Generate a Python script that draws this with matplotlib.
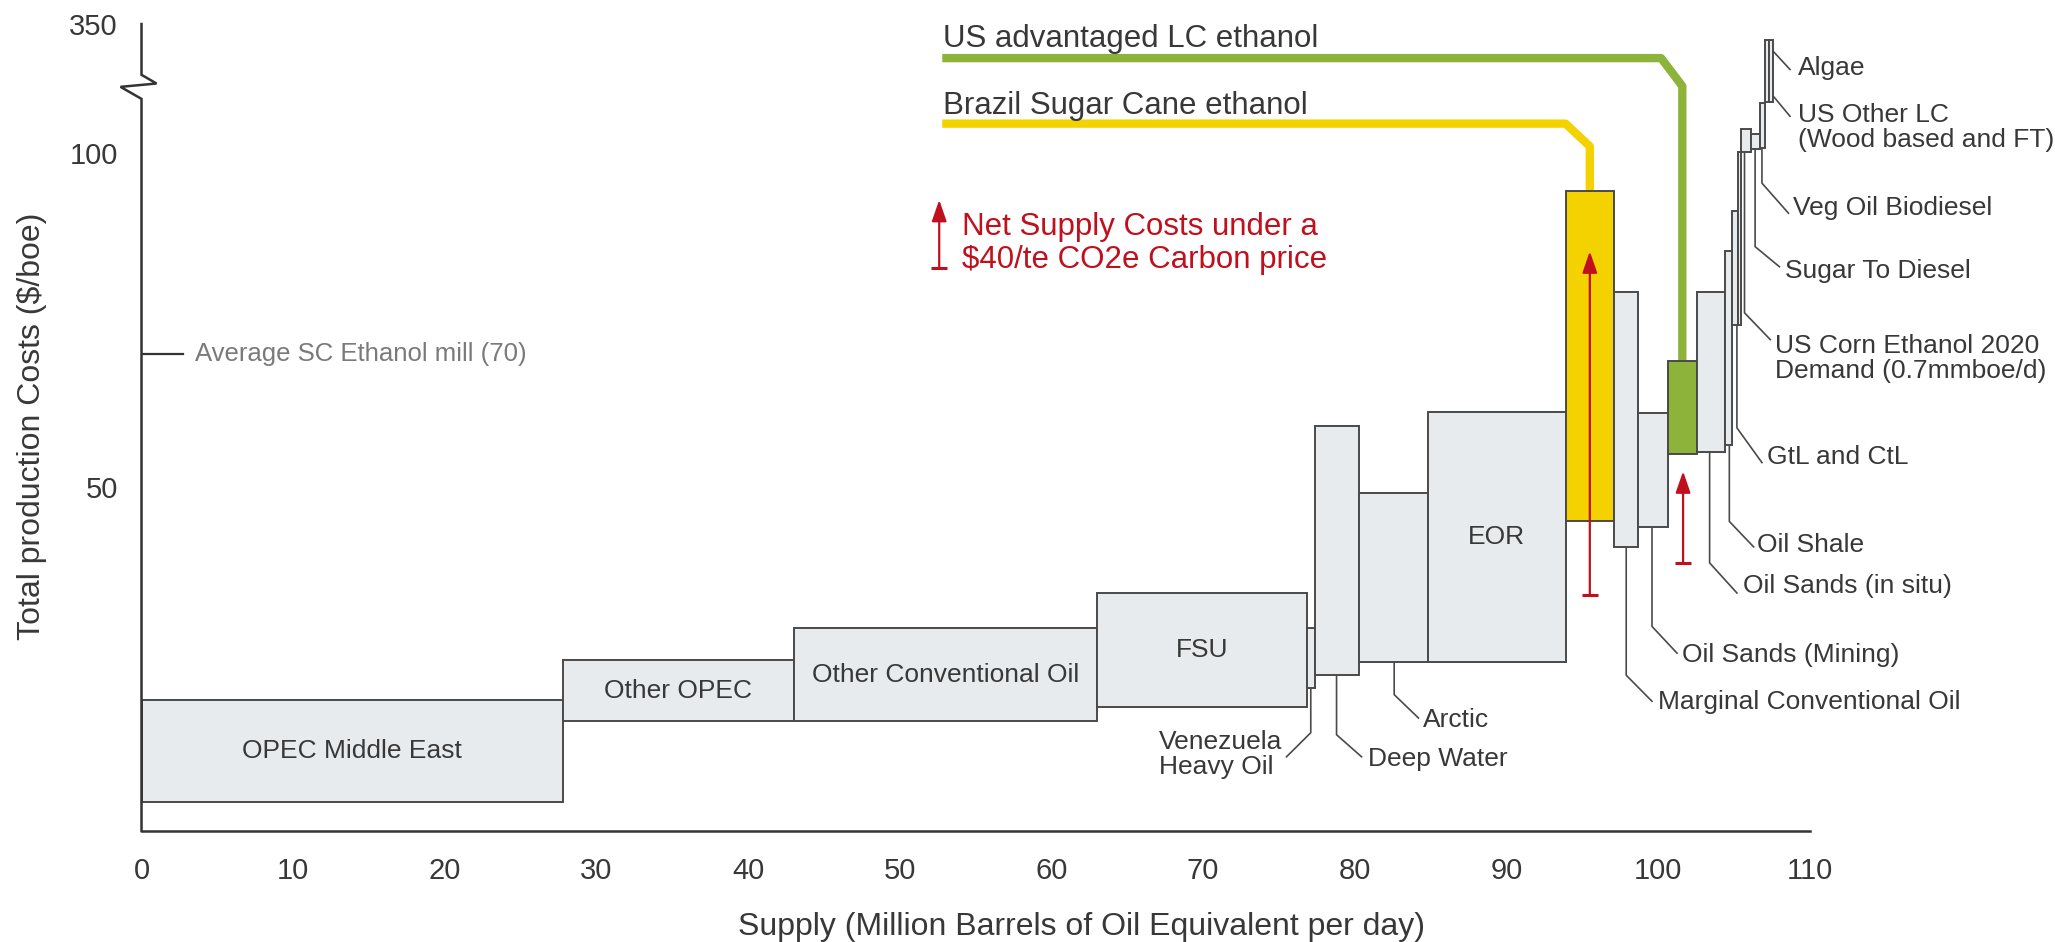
import numpy as np
import matplotlib.pyplot as plt

plt.rcParams['font.family'] = ['Liberation Sans', 'DejaVu Sans']

# supply segments (million boe/d) and their cost range ($/boe)
names = ["OPEC Middle East", "Other OPEC", "Other Conventional Oil", "FSU",
         "Venezuela Heavy Oil", "Deep Water", "Arctic", "EOR",
         "Brazil Sugar Cane ethanol", "Marginal Conventional Oil",
         "Oil Sands (Mining)", "US advantaged LC ethanol", "Oil Sands (in situ)",
         "Oil Shale", "GtL and CtL", "Other", "US Corn Ethanol", "Sugar To Diesel",
         "Veg Oil Biodiesel", "US Other LC", "Algae"]
supply = [27.8, 15.2, 20.0, 13.85, 0.55, 2.9, 4.5, 9.1, 3.2, 1.6, 1.95, 1.95,
          1.8, 0.5, 0.35, 0.22, 0.66, 0.6, 0.33, 0.27, 0.27]
cost_low = [2.9, 15.0, 15.0, 17.1, 20.0, 21.9, 23.9, 23.9, 45.0, 41.1, 44.0, 55.0,
            55.3, 56.3, 74.3, 74.3, 100.2, 100.6, 100.8, 107.6, 107.6]
cost_high = [18.2, 24.2, 28.9, 34.2, 28.9, 59.2, 49.2, 61.2, 94.3, 79.2, 61.1, 68.9,
             79.2, 85.3, 91.3, 100.2, 103.6, 102.8, 107.5, 290, 290]

# net supply cost under a $40/te CO2e price
carbon_x = [95.5, 101.65]
carbon_from = [33.9, 38.7]
carbon_to = [85.3, 52.4]

sc_mill = 70  # average SC ethanol mill
yticks = [50, 100, 350]
xticks = list(range(0, 111, 10))

GRAY = '#e8ebee'
EDGE = '#4a4a4a'
YELLOW = '#f4d200'
GREEN = '#8db33a'
RED = '#c0101e'
TXT = '#383838'

# broken axis: linear up to BRK, compressed above
BRK = 110.0
K = (119.3 - BRK) / (350 - BRK)

def fwd(v):
    v = np.asarray(v, dtype=float)
    return np.where(v <= BRK, v, BRK + (v - BRK) * K)

def inv(u):
    u = np.asarray(u, dtype=float)
    return np.where(u <= BRK, u, BRK + (u - BRK) / K)

def real(u):
    return float(inv(u))

fig = plt.figure(figsize=(20.55, 9.42), dpi=100)
ax = fig.add_axes([0.06886, 0.11783, 0.81178, 0.85669])
ax.set_yscale('function', functions=(fwd, inv))
ax.set_xlim(0, 110)
ax.set_ylim(-1.4, 350)

left = np.concatenate([[0], np.cumsum(supply)[:-1]])
colors = [GRAY] * len(names)
colors[names.index("Brazil Sugar Cane ethanol")] = YELLOW
colors[names.index("US advantaged LC ethanol")] = GREEN
ax.bar(left, np.array(cost_high) - np.array(cost_low), width=supply, bottom=cost_low,
       align='edge', color=colors, edgecolor=EDGE, linewidth=1.4, zorder=2)

# labels inside the big boxes
for nm in ["OPEC Middle East", "Other OPEC", "Other Conventional Oil", "FSU", "EOR"]:
    i = names.index(nm)
    ax.text(left[i] + supply[i] / 2, (cost_low[i] + cost_high[i]) / 2, nm,
            ha='center', va='center', fontsize=19, color=TXT, zorder=3)

# leader labels: box, x of drop, bend y, end x, end y, text x, text y, ha
leaders = [
    ("Venezuela Heavy Oil", "Venezuela\nHeavy Oil", 77.1, 13.3, 75.5, 9.7, 75.2, 10.1, 'right'),
    ("Deep Water", "Deep Water", 78.8, 13.0, 80.45, 9.7, 80.9, 9.4, 'left'),
    ("Arctic", "Arctic", 82.6, 19.0, 84.2, 15.5, 84.5, 15.2, 'left'),
    ("Marginal Conventional Oil", "Marginal Conventional Oil", 97.9, 21.9, 99.6, 18.0, 100.0, 17.9, 'left'),
    ("Oil Sands (Mining)", "Oil Sands (Mining)", 99.6, 29.2, 101.25, 25.2, 101.6, 24.9, 'left'),
    ("Oil Sands (in situ)", "Oil Sands (in situ)", 103.4, 38.7, 105.2, 34.2, 105.6, 35.2, 'left'),
    ("Oil Shale", "Oil Shale", 104.7, 44.9, 106.3, 41.1, 106.5, 41.4, 'left'),
    ("GtL and CtL", "GtL and CtL", 105.2, 58.9, 106.85, 53.7, 107.2, 54.6, 'left'),
    ("US Corn Ethanol", "US Corn Ethanol 2020\nDemand (0.7mmboe/d)", 105.7, 76.1, 107.4, 72.1, 107.7, 69.2, 'left'),
    ("Sugar To Diesel", "Sugar To Diesel", 106.4, 86.0, 108.0, 83.0, 108.4, 82.3, 'left'),
    ("Veg Oil Biodiesel", "Veg Oil Biodiesel", 106.85, 95.5, 108.6, 91.0, 108.9, 91.8, 'left'),
]
for nm, lab, xd, yb, xe, ye, tx, ty, ha in leaders:
    y0 = cost_low[names.index(nm)]
    ax.plot([xd, xd, xe], [y0, yb, ye], color=EDGE, lw=1.2, clip_on=False, zorder=1)
    ax.text(tx, ty, lab, ha=ha, va='center', fontsize=19, color=TXT,
            multialignment='left', linespacing=1.05, clip_on=False)

# the two tall boxes at the top end
ax.plot([107.6, 108.7], [real(115.2), real(112.5)], color=EDGE, lw=1.2, clip_on=False)
ax.text(109.2, real(112.7), "Algae", ha='left', va='center', fontsize=19, color=TXT)
ax.plot([107.6, 108.7], [108.5, 105.5], color=EDGE, lw=1.2, clip_on=False)
ax.text(109.2, 103.75, "US Other LC\n(Wood based and FT)", ha='left', va='center',
        fontsize=19, color=TXT, linespacing=1.05)

# ethanol connector lines
i_br = names.index("Brazil Sugar Cane ethanol")
i_us = names.index("US advantaged LC ethanol")
ax.plot([95.5, 95.5, 93.9, 52.8], [cost_high[i_br], 101.0, 104.4, 104.4],
        color=YELLOW, lw=6, solid_capstyle='butt', clip_on=False, zorder=1)
ax.plot([101.6, 101.6, 100.2, 52.8], [cost_high[i_us], 110.2, real(114.2), real(114.2)],
        color=GREEN, lw=6, solid_capstyle='butt', clip_on=False, zorder=1)
ax.text(52.85, real(115.8), "US advantaged LC ethanol", ha='left', va='baseline',
        fontsize=22.5, color=TXT)
ax.text(52.85, 105.8, "Brazil Sugar Cane ethanol", ha='left', va='baseline',
        fontsize=22.5, color=TXT)

# carbon price arrows
def carbon_arrow(x, lo, hi):
    ax.annotate('', xy=(x, hi), xytext=(x, lo),
                arrowprops=dict(arrowstyle='-|>,head_length=1.3,head_width=0.45',
                                color=RED, lw=1.6, shrinkA=0, shrinkB=0),
                annotation_clip=False, zorder=4)
    ax.plot([x], [lo], marker='_', ms=11, mew=2.2, color=RED, clip_on=False, zorder=4)

for x, lo, hi in zip(carbon_x, carbon_from, carbon_to):
    carbon_arrow(x, lo, hi)
carbon_arrow(52.6, 82.8, 93.0)
ax.text(54.1, 87.8, "Net Supply Costs under a", ha='left', va='baseline',
        fontsize=22.5, color=RED)
ax.text(54.1, 82.8, "$40/te CO2e Carbon price", ha='left', va='baseline',
        fontsize=22.5, color=RED)

# average SC ethanol mill marker
ax.plot([0, 2.76], [sc_mill, sc_mill], color='#333333', lw=1.6)
ax.text(3.5, sc_mill, "Average SC Ethanol mill (70)", ha='left', va='center',
        fontsize=18.5, color='#7a7a7a')

# axes, with a break in the y axis
for s in ['top', 'right', 'left']:
    ax.spines[s].set_visible(False)
ax.spines['bottom'].set_color('#333333')
ax.spines['bottom'].set_linewidth(1.8)
ytr = ax.get_yaxis_transform()
px = 1.0 / 1668.2
ax.plot([0, 0, -21 * px, 15 * px, 0, 0],
        [-1.4, 108.1, real(109.9), real(110.4), real(111.7), 350],
        transform=ytr, color='#333333', lw=1.8, clip_on=False, solid_joinstyle='miter')

ax.set_xticks(xticks)
ax.set_yticks(yticks)
ax.tick_params(length=0, labelsize=21, labelcolor=TXT)
ax.tick_params(axis='x', pad=19)
ax.tick_params(axis='y', pad=17)

ax.set_xlabel("Supply (Million Barrels of Oil Equivalent per day)", fontsize=23, color=TXT)
ax.xaxis.set_label_coords(0.5636, -0.1004)
ax.set_ylabel("Total production Costs ($/boe)", fontsize=23, color=TXT)
ax.yaxis.set_label_coords(-0.0566, 0.5019)

fig.savefig("out.png", dpi=100)
